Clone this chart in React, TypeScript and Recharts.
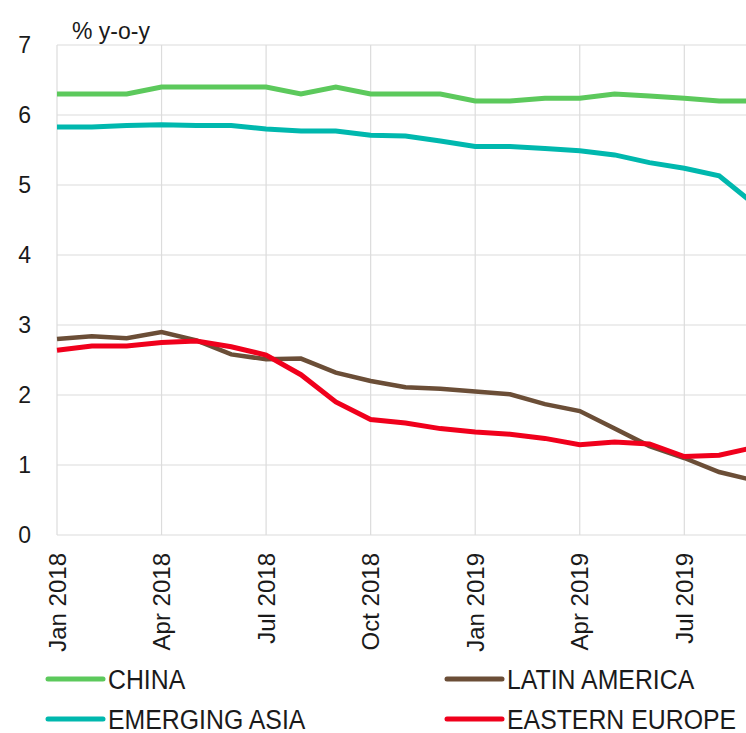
import { LineChart, Line, XAxis, YAxis, CartesianGrid } from "recharts";

const months = [
  "Jan 2018", "Feb 2018", "Mar 2018", "Apr 2018", "May 2018", "Jun 2018", "Jul 2018",
  "Aug 2018", "Sep 2018", "Oct 2018", "Nov 2018", "Dec 2018", "Jan 2019", "Feb 2019",
  "Mar 2019", "Apr 2019", "May 2019", "Jun 2019", "Jul 2019", "Aug 2019", "Sep 2019",
];

const china = [6.3, 6.3, 6.3, 6.4, 6.4, 6.4, 6.4, 6.3, 6.4, 6.3, 6.3, 6.3, 6.2, 6.2, 6.24, 6.24, 6.3, 6.27, 6.24, 6.2, 6.2];
const emergingAsia = [5.83, 5.83, 5.85, 5.86, 5.85, 5.85, 5.8, 5.77, 5.77, 5.71, 5.7, 5.63, 5.55, 5.55, 5.52, 5.49, 5.43, 5.32, 5.24, 5.13, 4.73];
const latinAmerica = [2.8, 2.84, 2.81, 2.9, 2.78, 2.58, 2.51, 2.52, 2.32, 2.2, 2.11, 2.09, 2.05, 2.01, 1.87, 1.77, 1.52, 1.27, 1.1, 0.9, 0.78];
const easternEurope = [2.64, 2.7, 2.7, 2.75, 2.77, 2.69, 2.57, 2.29, 1.9, 1.65, 1.6, 1.52, 1.47, 1.44, 1.38, 1.29, 1.33, 1.3, 1.12, 1.14, 1.25];

const yTicks = [0, 1, 2, 3, 4, 5, 6, 7];

const series = [
  { key: "china", name: "CHINA", color: "#5cc95c", width: 5 },
  { key: "emergingAsia", name: "EMERGING ASIA", color: "#00b8ae", width: 5 },
  { key: "latinAmerica", name: "LATIN AMERICA", color: "#6b4e37", width: 4.5 },
  { key: "easternEurope", name: "EASTERN EUROPE", color: "#f0001c", width: 5 },
];

// legend is laid out in two columns, row by row
const legendOrder = ["china", "latinAmerica", "emergingAsia", "easternEurope"];

const data = months.map((m, i) => ({
  month: m,
  china: china[i],
  emergingAsia: emergingAsia[i],
  latinAmerica: latinAmerica[i],
  easternEurope: easternEurope[i],
}));

const FONT = "'Liberation Sans', Arial, Helvetica, sans-serif";
const TEXT = "#1a1a1a";

function MonthTick(props: any) {
  const { x, y, payload } = props;
  return (
    <g transform={`translate(${x},${y})`}>
      <text
        transform="rotate(-90)"
        x={-18}
        dy="0.36em"
        textAnchor="end"
        fontSize={24}
        fill={TEXT}
        fontFamily={FONT}
      >
        {payload.value}
      </text>
    </g>
  );
}

function Legend() {
  return (
    <svg
      width={746}
      height={83}
      style={{ position: "absolute", left: 0, top: 650 }}
    >
      {legendOrder.map((k, i) => {
        const s = series.find((d) => d.key === k)!;
        const col = i % 2;
        const row = Math.floor(i / 2);
        const lx = col === 0 ? 48 : 447;
        const cy = 29 + row * 40;
        return (
          <g key={k}>
            <line
              x1={lx}
              x2={lx + 55}
              y1={cy}
              y2={cy}
              stroke={s.color}
              strokeWidth={5}
              strokeLinecap="round"
            />
            <text
              transform={`translate(${lx + 60},${cy + 10}) scale(0.92 1)`}
              fontSize={27}
              fill={TEXT}
              fontFamily={FONT}
            >
              {s.name}
            </text>
          </g>
        );
      })}
    </svg>
  );
}

export default function App() {
  return (
    <div
      style={{
        position: "absolute",
        left: 0,
        top: 0,
        width: 746,
        height: 733,
        overflow: "hidden",
        background: "#fff",
        fontFamily: FONT,
      }}
    >
      <svg width={200} height={45} style={{ position: "absolute", left: 0, top: 0 }}>
        <text x={72} y={39} fontSize={23} fill={TEXT} fontFamily={FONT}>
          % y-o-y
        </text>
      </svg>
      <div style={{ position: "absolute", left: 0, top: 0 }}>
        <LineChart
          width={760}
          height={733}
          data={data}
          margin={{ top: 45, right: 6, left: 0, bottom: 0 }}
        >
          <CartesianGrid stroke="#dcdcdc" strokeWidth={1.2} />
          <XAxis
            dataKey="month"
            interval={2}
            height={198}
            tickLine={false}
            axisLine={false}
            tickSize={0}
            tickMargin={0}
            tick={<MonthTick />}
          />
          <YAxis
            domain={[0, 7]}
            ticks={yTicks}
            width={57}
            tickLine={false}
            axisLine={false}
            tickSize={0}
            tickMargin={26}
            tick={{ fontSize: 23, fill: TEXT, fontFamily: FONT }}
          />
          {series.map((s) => (
            <Line
              key={s.key}
              type="linear"
              dataKey={s.key}
              name={s.name}
              stroke={s.color}
              strokeWidth={s.width}
              dot={false}
              activeDot={false}
              isAnimationActive={false}
            />
          ))}
        </LineChart>
      </div>
      <Legend />
    </div>
  );
}
